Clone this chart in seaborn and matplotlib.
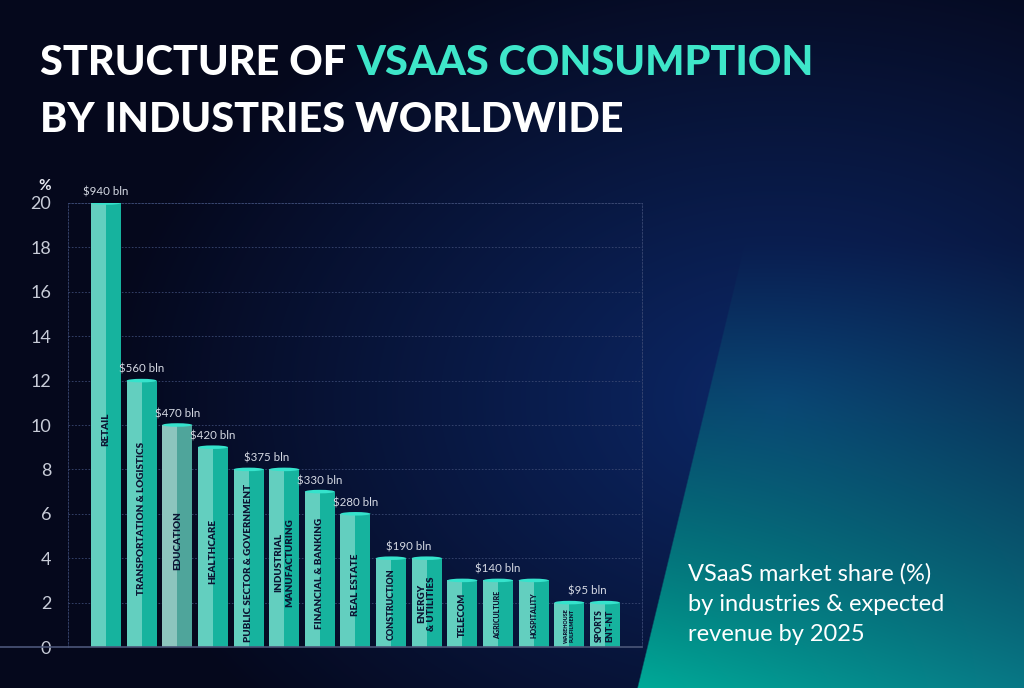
import numpy as np
import pandas as pd
import matplotlib
matplotlib.use("Agg")
import matplotlib.pyplot as plt
import seaborn as sns
from matplotlib.patches import Rectangle, Ellipse
from matplotlib.lines import Line2D

# ---------------- data ----------------
industries = ["RETAIL", "TRANSPORTATION & LOGISTICS", "EDUCATION", "HEALTHCARE",
              "PUBLIC SECTOR & GOVERNMENT", "INDUSTRIAL\nMANUFACTURING",
              "FINANCIAL & BANKING", "REAL ESTATE", "CONSTRUCTION",
              "ENERGY\n& UTILITIES", "TELECOM", "AGRICULTURE", "HOSPITALITY",
              "WAREHOUSE\nFULFILMENT", "SPORTS\nENT-NT"]
shares = [20, 12, 10, 9, 8, 8, 7, 6, 4, 4, 3, 3, 3, 2, 2]
revenue_labels = ["$940 bln", "$560 bln", "$470 bln", "$420 bln", "$375 bln",
                  "$330 bln", "$280 bln", "$190 bln", "$140 bln", "$95 bln"]
revenue_groups = [[0], [1], [2], [3], [4, 5], [6], [7], [8, 9], [10, 11, 12], [13, 14]]
y_ticks = [0, 2, 4, 6, 8, 10, 12, 14, 16, 18, 20]

# ---------------- style ----------------
label_sizes = {"AGRICULTURE": 5.0, "HOSPITALITY": 5.0, "WAREHOUSE\nFULFILMENT": 3.9,
               "CONSTRUCTION": 6.5, "SPORTS\nENT-NT": 6.2, "TELECOM": 6.8}
dark_col = "#16b39e"
light_col = "#63cfbf"
edu_dark, edu_light = "#4fa59b", "#8dc5be"

sns.set_theme(style="white")
plt.rcParams['font.family'] = ['Lato', 'DejaVu Sans']

W, H = 1024, 688
fig = plt.figure(figsize=(W / 100, H / 100), dpi=100)

# ---------------- background ----------------
yy, xx = np.mgrid[0:H, 0:W].astype(float)
dark = np.array([5, 8, 28]) / 255
blue = np.array([12, 40, 104]) / 255
d = np.sqrt(((xx - 780) / 680) ** 2 + ((yy - 400) / 480) ** 2)
wb = np.clip(1 - d, 0, 1) ** 1.0
base = dark + (blue - dark) * wb[..., None]
xedge = 637 + (H - yy) * 0.2417
inside = np.clip((xx - xedge) / 1.5 + 0.5, 0, 1)
tb = np.clip((xx - 640) / 384, 0, 1)
teal_a = np.array([0, 170, 152]) / 255
teal_b = np.array([8, 120, 134]) / 255
tc = teal_a + (teal_b - teal_a) * tb[..., None]
wt = np.clip((yy - 240) / 448, 0, 1) ** 1.25
img = base + (tc - base) * (inside * wt)[..., None]
bg = fig.add_axes([0, 0, 1, 1], zorder=-10)
bg.imshow(np.clip(img, 0, 1), aspect='auto', extent=(0, 1, 0, 1), origin='upper')
bg.axis('off')

# ---------------- main chart ----------------
ax_l, ax_r = 68 / W, 642 / W
ax_b, ax_t = 1 - 647 / H, 1 - 203 / H
ax = fig.add_axes([ax_l, ax_b, ax_r - ax_l, ax_t - ax_b])
ax.set_facecolor('none')

df = pd.DataFrame({"industry": industries, "share": shares})
palette = [edu_dark if i == 2 else dark_col for i in range(len(industries))]
sns.barplot(data=df, x="industry", y="share", hue="industry", palette=palette,
            legend=False, width=0.84, ax=ax, saturation=1, zorder=3,
            linewidth=0, edgecolor='none')

for i, p in enumerate(ax.patches[:len(industries)]):
    x0, w, h = p.get_x(), p.get_width(), p.get_height()
    lc = edu_light if i == 2 else light_col
    ax.add_patch(Rectangle((x0, 0), w / 2, h, facecolor=lc, edgecolor='none', zorder=4, lw=0))
    ax.add_patch(Ellipse((x0 + w / 2, h), w, 0.16, facecolor="#35e3cc", edgecolor='none',
                         zorder=5, lw=0))
    name = industries[i]
    fs = label_sizes.get(name, 7.1)
    yc = h / 2 - 0.2 if h > 5 else h / 2 - 0.05
    ax.text(x0 + w / 2, yc, name, rotation=90, ha='center', va='center',
            rotation_mode='anchor', multialignment='center', fontsize=fs,
            fontweight='heavy', color='#0b1533', zorder=6, linespacing=1.2,
            clip_on=False)

for lab, grp in zip(revenue_labels, revenue_groups):
    xc = np.mean(grp)
    top = max(shares[g] for g in grp)
    ax.text(xc, top + 0.5, lab, ha='center', va='center', fontsize=8.3,
            color='#d6dae4', zorder=6)

ax.set_xlim(-1.066, 15.04)
ax.set_ylim(0, 20)
ax.set_yticks(y_ticks)
ax.set_yticklabels([str(t) for t in y_ticks], fontsize=13, color='#c8ccd8',
                   fontweight='normal')
ax.tick_params(axis='y', length=0, pad=12, colors='#c8ccd8')
ax.set_xticks([])
ax.set_xlabel("")
ax.set_ylabel("")
ax.grid(axis='y', color='#3a4872', linestyle=(0, (2, 2)), linewidth=0.6, zorder=0)
for s in ['left', 'right', 'top']:
    ax.spines[s].set_visible(True)
    ax.spines[s].set_color('#3a4872')
    ax.spines[s].set_linestyle((0, (2, 2)))
    ax.spines[s].set_linewidth(0.6)
ax.spines['bottom'].set_visible(False)
fig.add_artist(Line2D([0, ax_r], [ax_b, ax_b], color='#4b5679', lw=1.2, zorder=10))

fig.text(45 / W, 1 - 186 / H, "%", fontsize=11, fontweight='bold', color='#e6e8f0',
         ha='center', va='center')

# ---------------- title ----------------
renderer = fig.canvas.get_renderer()
tfont = dict(fontsize=29.8, fontweight=900, family=['Lato', 'DejaVu Sans'])
t1 = fig.text(40 / W, 1 - 75 / H, "STRUCTURE OF ", color='white', ha='left',
              va='baseline', **tfont)
bb = t1.get_window_extent(renderer=renderer)
fig.text(bb.x1 / W, 1 - 75 / H, "VSAAS CONSUMPTION", color='#3ee6c9', ha='left',
         va='baseline', **tfont)
fig.text(40 / W, 1 - 132 / H, "BY INDUSTRIES WORLDWIDE", color='white', ha='left',
         va='baseline', **tfont)

# ---------------- side note ----------------
fig.text(688 / W, 1 - 563 / H, "VSaaS market share (%)\nby industries & expected\nrevenue by 2025",
         fontsize=17, color='white', ha='left', va='top', linespacing=1.55)

fig.savefig("out.png", dpi=100)
